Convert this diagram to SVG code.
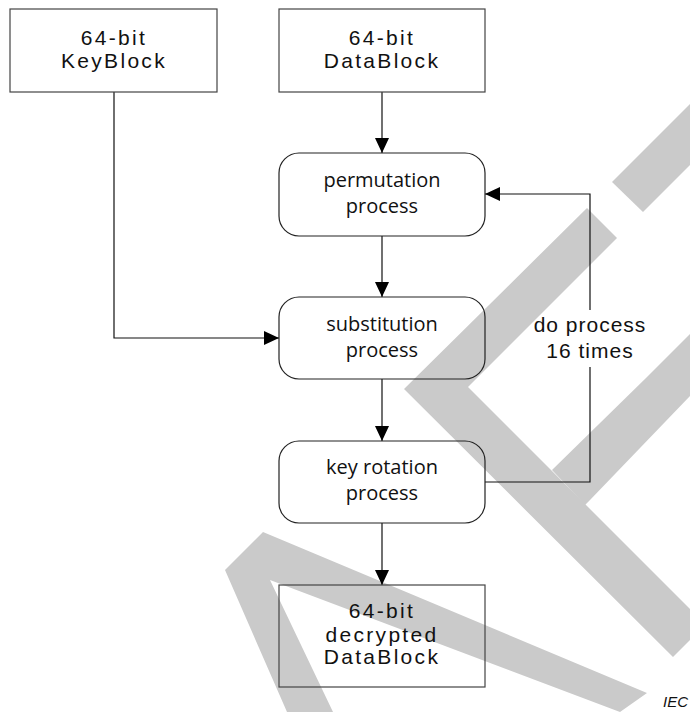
<svg xmlns="http://www.w3.org/2000/svg" width="690" height="712" viewBox="0 0 690 712">
  <style>
    .wm { fill: #cacaca; stroke: none; }
    .block { fill: none; stroke: #444444; stroke-width: 1.2; }
    .step { fill: none; stroke: #222222; stroke-width: 1.2; }
    .link { fill: none; stroke: #111111; stroke-width: 1.2; }
    .btxt { font-family: "Liberation Sans", Arial, sans-serif; font-size: 21px; letter-spacing: 2.3px; fill: #111111; text-anchor: middle; }
    .stxt { font-family: "Open Sans", "Noto Sans", sans-serif; font-size: 20px; fill: #111111; text-anchor: middle; }
    .ltxt { font-family: "Liberation Sans", Arial, sans-serif; font-size: 21px; letter-spacing: 1px; fill: #111111; text-anchor: middle; }
    .tag { font-family: "Liberation Sans", Arial, sans-serif; font-size: 15px; font-style: italic; fill: #111111; text-anchor: end; }
  </style>
  <defs>
    <marker id="arrow" markerUnits="userSpaceOnUse" markerWidth="16" markerHeight="14" refX="15" refY="7" orient="auto">
      <path d="M0,0 L15,7 L0,14 Z" fill="#000000"/>
    </marker>
  </defs>

  <!-- background watermark bands -->
  <g id="watermark">
    <polygon class="wm" points="612,182 643,212 690,165 690,104"/>
    <polygon class="wm" points="587,208 617,238 468,387 690,609 690,640 673,657 404,389"/>
    <polygon class="wm" points="552,470 646,378 690,334 690,396 590,500 585,505"/>
    <polygon class="wm" points="225,570 263,532 647,693 620,712 270,580 333,712 287,712"/>
  </g>

  <!-- connectors -->
  <g id="connectors">
    <path class="link" d="M382,92 V153" marker-end="url(#arrow)"/>
    <path class="link" d="M382,236 V297" marker-end="url(#arrow)"/>
    <path class="link" d="M382,379 V441" marker-end="url(#arrow)"/>
    <path class="link" d="M382,523 V585" marker-end="url(#arrow)"/>
    <path class="link" d="M114,92 V338 H279" marker-end="url(#arrow)"/>
    <path class="link" d="M485,482 H590 V367"/>
    <path class="link" d="M590,310 V194 H485" marker-end="url(#arrow)"/>
    <text class="ltxt" x="590" y="332">do process</text>
    <text class="ltxt" x="590" y="358">16 times</text>
  </g>

  <g id="keyblock">
    <rect class="block" x="10" y="9" width="207" height="83"/>
    <text class="btxt" x="114" y="45">64-bit</text>
    <text class="btxt" x="114" y="68">KeyBlock</text>
  </g>

  <g id="datablock">
    <rect class="block" x="279" y="9" width="206" height="83"/>
    <text class="btxt" x="382" y="45">64-bit</text>
    <text class="btxt" x="382" y="68">DataBlock</text>
  </g>

  <g id="permutation">
    <rect class="step" x="279" y="153" width="206" height="83" rx="20" ry="20"/>
    <text class="stxt" x="382" y="187">permutation</text>
    <text class="stxt" x="382" y="213">process</text>
  </g>

  <g id="substitution">
    <rect class="step" x="279" y="297" width="206" height="82" rx="20" ry="20"/>
    <text class="stxt" x="382" y="331">substitution</text>
    <text class="stxt" x="382" y="357">process</text>
  </g>

  <g id="keyrotation">
    <rect class="step" x="279" y="441" width="206" height="82" rx="20" ry="20"/>
    <text class="stxt" x="382" y="474">key rotation</text>
    <text class="stxt" x="382" y="500">process</text>
  </g>

  <g id="decrypted">
    <rect class="block" x="279" y="585" width="206" height="102"/>
    <text class="btxt" x="382" y="618">64-bit</text>
    <text class="btxt" x="382" y="642">decrypted</text>
    <text class="btxt" x="382" y="664">DataBlock</text>
  </g>

  <text class="tag" x="688" y="707">IEC</text>
</svg>
